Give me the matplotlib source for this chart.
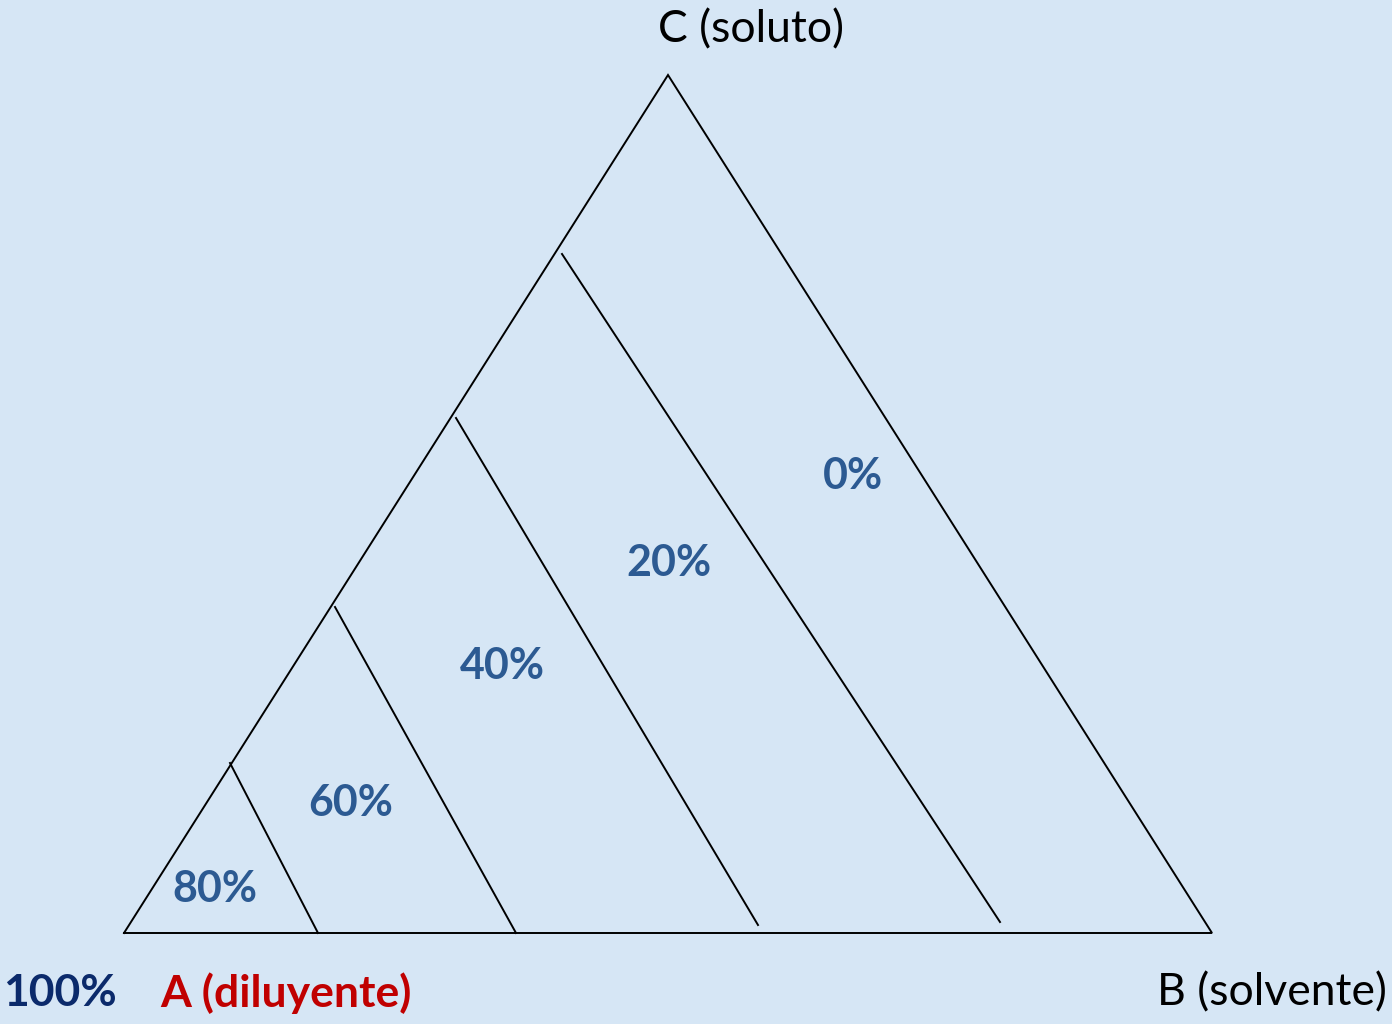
import matplotlib
matplotlib.use('Agg')
import matplotlib.pyplot as plt

plt.rcParams['font.family'] = ['Lato', 'DejaVu Sans']

# triangle vertices A, B, C (picture coordinates, y down)
tri_x = [124, 1212, 668, 124]
tri_y = [933, 933, 75, 933]

# inner lines: start on side AC, end near base AB
line_x0 = [562, 456, 335, 230]
line_y0 = [254, 418, 607, 763]
line_x1 = [1000, 758, 516, 318]
line_y1 = [922, 925, 933, 933]

# percent labels inside the triangle
pct_labels = ['0%', '20%', '40%', '60%', '80%']
pct_x = [853, 669, 502, 351, 215]
pct_y = [476, 563, 666, 803, 889]

fig = plt.figure(figsize=(13.92, 10.24), dpi=100)
fig.patch.set_facecolor('#d6e6f5')
ax = fig.add_axes([0, 0, 1, 1])
ax.set_facecolor('#d6e6f5')
ax.set_xlim(0, 1392)
ax.set_ylim(1024, 0)
ax.axis('off')

ax.plot(tri_x, tri_y, color='black', linewidth=1.4, solid_joinstyle='miter')
for x0, y0, x1, y1 in zip(line_x0, line_y0, line_x1, line_y1):
    ax.plot([x0, x1], [y0, y1], color='black', linewidth=1.4)

for t, x, y in zip(pct_labels, pct_x, pct_y):
    ax.text(x, y, t, fontsize=31, fontweight='bold', color='#2c5a92',
            ha='center', va='center')

ax.text(751, 30, 'C (soluto)', fontsize=32, color='black', ha='center', va='center')
ax.text(1272, 993, 'B (solvente)', fontsize=32, color='black', ha='center', va='center')
ax.text(60, 993, '100%', fontsize=32, fontweight='bold', color='#0b2a6b', ha='center', va='center')
ax.text(286, 993, 'A (diluyente)', fontsize=32, fontweight='bold', color='#c00000', ha='center', va='center')

fig.savefig('out.png', dpi=100, facecolor=fig.get_facecolor())
